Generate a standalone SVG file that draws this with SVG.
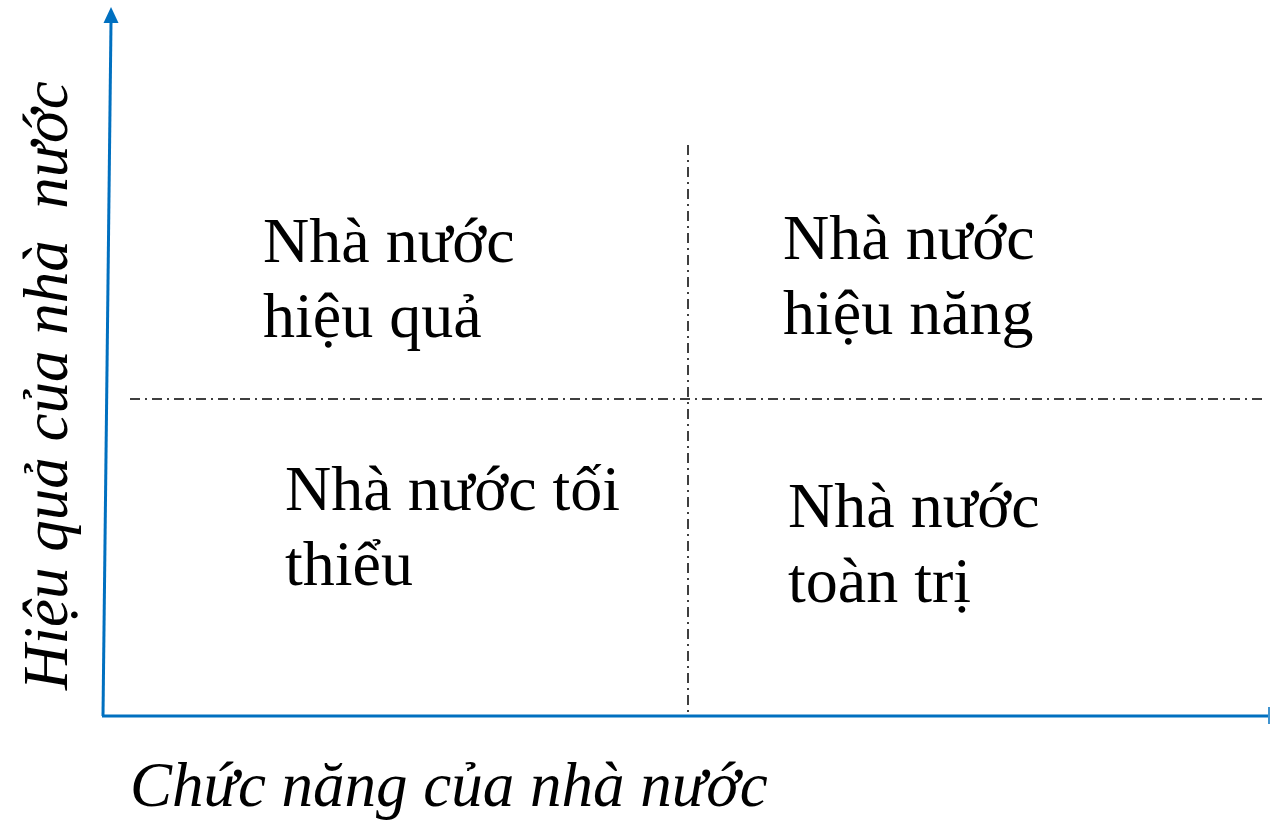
<svg xmlns="http://www.w3.org/2000/svg" width="1270" height="822" viewBox="0 0 1270 822">
<style>
.lbl{font-family:"Liberation Serif","Times New Roman",serif;font-size:64px;fill:#000}
.ax{font-family:"Liberation Serif","Times New Roman",serif;font-size:63px;font-style:italic;fill:#000}
.axis{stroke:#0070C0;stroke-width:3;fill:none}
.grid{stroke:#000;stroke-width:1.5;stroke-dasharray:10 5 2 5;fill:none}
</style>
<g id="connectors">
<line class="grid" x1="688" y1="145" x2="688" y2="712"/>
<line class="grid" x1="130" y1="399" x2="1266" y2="399"/>
<path class="axis" d="M103,716 L111,22"/>
<polygon points="111,7 103.5,23 118.5,23" fill="#0070C0"/>
<path class="axis" d="M102,716 L1268,716"/>
<line x1="1269" y1="707" x2="1269" y2="724" stroke="#0070C0" stroke-width="1.5"/>
</g>
<g id="node-tl"><text class="lbl" x="263" y="262">Nhà nước</text><text class="lbl" x="263" y="337">hiệu quả</text></g>
<g id="node-tr"><text class="lbl" x="783" y="259">Nhà nước</text><text class="lbl" x="783" y="334">hiệu năng</text></g>
<g id="node-bl"><text class="lbl" x="285" y="510">Nhà nước tối</text><text class="lbl" x="285" y="585">thiểu</text></g>
<g id="node-br"><text class="lbl" x="788" y="527">Nhà nước</text><text class="lbl" x="788" y="602">toàn trị</text></g>
<g id="xlabel"><text class="ax" x="130" y="806">Chức năng của nhà nước</text></g>
<g id="ylabel"><text class="ax" transform="translate(67,690) rotate(-90)" x="0" y="0" xml:space="preserve">Hiệu quả của nhà  nước</text></g>
</svg>
